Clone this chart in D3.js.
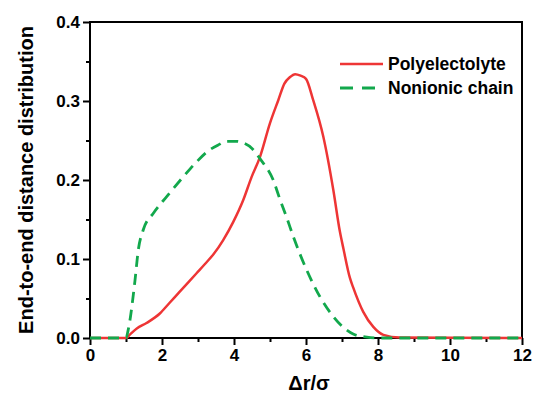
<!DOCTYPE html>
<html>
<head>
<meta charset="utf-8">
<script src="https://cdn.jsdelivr.net/npm/d3@7"></script>
<style>
  body { margin: 0; background: #fff; }
  text { font-family: "Liberation Sans", Arial, sans-serif; font-weight: bold; fill: #000; }
</style>
</head>
<body>
<div id="chart"></div>
<script>
// data
var polyX = [0, 1.0, 1.1, 1.3, 1.57, 1.94, 2.2, 2.5, 2.96, 3.2, 3.43, 3.7, 3.98, 4.26, 4.49, 4.72, 5.0, 5.23, 5.4, 5.55, 5.7, 5.85, 6.0, 6.2, 6.48, 6.76, 6.94, 7.04, 7.22, 7.31, 7.59, 7.87, 8.15, 8.6, 12];
var polyY = [0, 0, 0.004, 0.012, 0.019, 0.031, 0.044, 0.059, 0.082, 0.094, 0.106, 0.124, 0.147, 0.175, 0.204, 0.229, 0.272, 0.301, 0.322, 0.330, 0.334, 0.332, 0.328, 0.301, 0.255, 0.187, 0.135, 0.113, 0.076, 0.064, 0.033, 0.014, 0.004, 0.0005, 0];
var nonX = [0, 1.0, 1.06, 1.25, 1.34, 1.48, 1.76, 2.13, 2.59, 2.92, 3.29, 3.55, 3.8, 4.05, 4.26, 4.5, 4.72, 5.09, 5.28, 5.46, 5.65, 6.02, 6.39, 6.76, 7.13, 7.31, 7.69, 8.0, 12];
var nonY = [0, 0, 0.01, 0.073, 0.111, 0.137, 0.158, 0.179, 0.204, 0.221, 0.237, 0.244, 0.249, 0.249, 0.247, 0.240, 0.227, 0.200, 0.175, 0.153, 0.128, 0.086, 0.052, 0.027, 0.010, 0.005, 0.001, 0, 0];
var xTicks = [0, 2, 4, 6, 8, 10, 12];
var yTicks = [0, 0.1, 0.2, 0.3, 0.4];
var seriesNames = ["Polyelectolyte", "Nonionic chain"];

var W = 533, H = 395;
var margin = {top: 22, right: 11, bottom: 57, left: 90};
var width = W - margin.left - margin.right;
var height = H - margin.top - margin.bottom;

var red = "#ee3535", green = "#12a84c";

var svg = d3.select("#chart").append("svg")
    .attr("width", W)
    .attr("height", H);

var g = svg.append("g")
    .attr("transform", "translate(" + margin.left + "," + margin.top + ")");

var x = d3.scaleLinear().domain([0, 12]).range([0, width]);
var y = d3.scaleLinear().domain([0, 0.4]).range([height, 0]);

// minor ticks
g.append("g")
    .attr("transform", "translate(0," + height + ")")
    .call(d3.axisBottom(x).tickValues(d3.range(1, 12, 2)).tickSize(4).tickFormat(""))
    .call(function(a) { a.select(".domain").remove(); });
g.append("g")
    .call(d3.axisLeft(y).tickValues([0.05, 0.15, 0.25, 0.35]).tickSize(4).tickFormat(""))
    .call(function(a) { a.select(".domain").remove(); });

var xAxis = g.append("g")
    .attr("transform", "translate(0," + height + ")")
    .call(d3.axisBottom(x).tickValues(xTicks).tickSize(7).tickPadding(4).tickFormat(d3.format("d")));
var yAxis = g.append("g")
    .call(d3.axisLeft(y).tickValues(yTicks).tickSize(7).tickPadding(3).tickFormat(d3.format(".1f")));

g.selectAll(".tick line").attr("stroke", "#000").attr("stroke-width", 2);
g.selectAll(".domain").remove();
g.selectAll(".tick text").style("font-size", "17px");

// frame
g.append("rect")
    .attr("x", 0).attr("y", 0)
    .attr("width", width).attr("height", height)
    .attr("fill", "none")
    .attr("stroke", "#000")
    .attr("stroke-width", 2);

var line = d3.line()
    .x(function(d) { return x(d[0]); })
    .y(function(d) { return y(d[1]); })
    .curve(d3.curveMonotoneX);

g.append("path")
    .datum(d3.zip(polyX, polyY))
    .attr("d", line)
    .attr("fill", "none")
    .attr("stroke", red)
    .attr("stroke-width", 2.5);

g.append("path")
    .datum(d3.zip(nonX, nonY))
    .attr("d", line)
    .attr("fill", "none")
    .attr("stroke", green)
    .attr("stroke-width", 2.8)
    .attr("stroke-dasharray", "11,7");

// legend
var legend = svg.append("g").attr("transform", "translate(340,64)");
[red, green].forEach(function(c, i) {
    legend.append("line")
        .attr("x1", 0).attr("x2", 43)
        .attr("y1", i * 24).attr("y2", i * 24)
        .attr("stroke", c)
        .attr("stroke-width", i ? 2.8 : 2.5)
        .attr("stroke-dasharray", i ? "13,9" : null);
    legend.append("text")
        .attr("x", 48)
        .attr("y", i * 24)
        .attr("dy", "0.35em")
        .style("font-size", "17.5px")
        .text(seriesNames[i]);
});

// axis titles
svg.append("text")
    .attr("x", 309)
    .attr("y", 390)
    .attr("text-anchor", "middle")
    .style("font-size", "20px")
    .text("\u0394r/\u03c3");

svg.append("text")
    .attr("transform", "translate(33," + (margin.top + height / 2) + ")rotate(-90)")
    .attr("text-anchor", "middle")
    .style("font-size", "20px")
    .text("End-to-end distance distribution");
</script>
</body>
</html>
